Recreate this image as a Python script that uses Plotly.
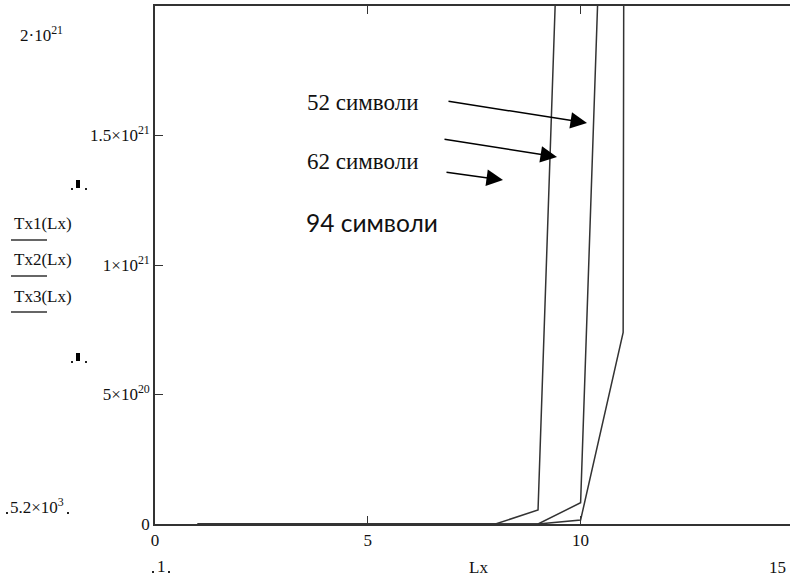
import plotly.graph_objects as go

# ---- data ----
Lx = [1, 2, 3, 4, 5, 6, 7, 8, 9, 10, 11, 12]
Tx1 = [0, 0, 0, 0, 0, 0, 0, 0, 5.4e19, 4.9e21, 2.0e23, 5.0e24]
Tx2 = [0, 0, 0, 0, 0, 0, 0, 0, 0, 8.2e19, 4.9e21, 2.0e23]
Tx3 = [0, 0, 0, 0, 0, 0, 0, 0, 0, 1.5e19, 7.4e20, 1.0e23]

y_tickvals = [0, 5e20, 1e21, 1.5e21]
y_ticktext = ["0", "5×10<sup>20</sup>", "1×10<sup>21</sup>", "1.5×10<sup>21</sup>"]
x_tickvals = [0, 5, 10, 15]
x_ticktext = ["0", "5", "10", "15"]

labels_serif = ["52 символи", "62 символи"]
label_sans = "94 символи"
legend_names = ["Tx1(Lx)", "Tx2(Lx)", "Tx3(Lx)"]

# ---- geometry helpers (pixel -> paper) ----
W, H = 790, 580
ML, MT, MB, MR = 155, 6, 56, 0
PW = W - ML - MR
PH = H - MT - MB


def px(x):
    return (x - ML) / PW


def py(y):
    return (H - MB - y) / PH


SERIF = "Liberation Serif"
LINE_C = "#333333"
TXT_C = "#111111"

fig = go.Figure()
for name, ys in zip(legend_names, [Tx1, Tx2, Tx3]):
    fig.add_trace(go.Scatter(x=Lx, y=ys, mode="lines", name=name,
                             line=dict(color=LINE_C, width=1.5),
                             showlegend=False, hoverinfo="skip"))

annotations = []


def label(x, y, text, size=17, family=SERIF, anchor="left"):
    annotations.append(dict(x=px(x), y=py(y), xref="paper", yref="paper",
                            text=text, showarrow=False,
                            xanchor=anchor, yanchor="middle",
                            font=dict(family=family, size=size, color=TXT_C)))


label(18, 34, "2·10<sup>21</sup>")
label(8, 506, "5.2×10<sup>3</sup>")
for i, nm in enumerate(legend_names):
    label(12, 223 + 36.5 * i, nm)
label(161, 566, "1", anchor="center")
label(478, 567, "Lx", anchor="center")
label(777, 567, "15", anchor="center")
label(305, 103, labels_serif[0], size=23)
label(305, 162, labels_serif[1], size=23)
label(304, 222, label_sans, size=24.5, family="Lato")

# arrows (tip, tail in pixels)
arrows = [((587, 123), (447, 101)), ((557, 157), (443, 139)), ((503, 180), (445, 172))]
for (tx, ty), (sx, sy) in arrows:
    annotations.append(dict(x=px(tx), y=py(ty), xref="paper", yref="paper",
                            ax=sx - tx, ay=sy - ty, text="", showarrow=True,
                            arrowhead=2, arrowsize=2.2, arrowwidth=1.5,
                            arrowcolor="#000"))

shapes = []
for i in range(3):
    yy = py(240 + 36 * i)
    shapes.append(dict(type="line", xref="paper", yref="paper",
                       x0=px(11), x1=px(47), y0=yy, y1=yy,
                       line=dict(color=LINE_C, width=1.5)))
for ym in (184, 357):
    shapes.append(dict(type="rect", xref="paper", yref="paper",
                       x0=px(76), x1=px(80), y0=py(ym - 4), y1=py(ym + 4),
                       fillcolor="#000", line=dict(width=0)))
    for xd in (72, 86):
        shapes.append(dict(type="rect", xref="paper", yref="paper",
                           x0=px(xd - 1), x1=px(xd + 1), y0=py(ym + 4), y1=py(ym + 6),
                           fillcolor="#222", line=dict(width=0)))
for (xd, yd) in ((7, 513), (68, 513), (153, 572), (169, 572)):
    shapes.append(dict(type="rect", xref="paper", yref="paper",
                       x0=px(xd - 1), x1=px(xd + 1), y0=py(yd - 1), y1=py(yd + 1),
                       fillcolor="#222", line=dict(width=0)))

fig.update_layout(
    width=W, height=H,
    margin=dict(l=ML, r=MR, t=MT, b=MB, pad=0),
    paper_bgcolor="white", plot_bgcolor="white",
    showlegend=False,
    annotations=annotations,
    shapes=shapes,
    xaxis=dict(range=[0, 14.92], showgrid=False, zeroline=False,
               showline=True, linecolor="#333", linewidth=1.6, mirror="ticks",
               ticks="inside", ticklen=8, tickwidth=1.3, tickcolor="#333",
               tickvals=x_tickvals, ticktext=x_ticktext,
               ticklabelstandoff=0,
               tickfont=dict(family=SERIF, size=17, color=TXT_C)),
    yaxis=dict(range=[0, 2e21], showgrid=False, zeroline=False,
               showline=True, linecolor="#333", linewidth=1.6, mirror=False,
               ticks="inside", ticklen=8, tickwidth=1.3, tickcolor="#333",
               tickvals=y_tickvals, ticktext=y_ticktext,
               tickfont=dict(family=SERIF, size=17, color=TXT_C)),
)

fig.write_html("out.html",
               config={"displayModeBar": False},
               post_script="document.body.style.margin='0';document.body.style.overflow='hidden';")
